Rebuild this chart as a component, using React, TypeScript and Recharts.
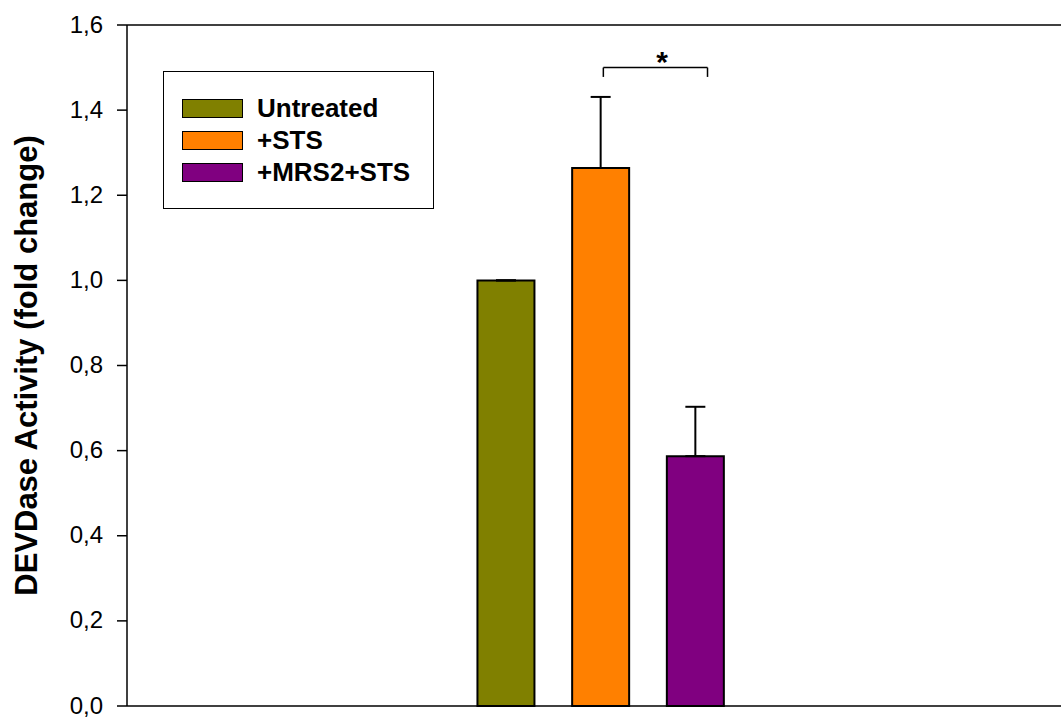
import { BarChart, Bar, XAxis, YAxis, Cell, ErrorBar, ReferenceLine, ReferenceDot } from "recharts"

const groups = ["Untreated", "+STS", "+MRS2+STS"]
const positions = [1, 2, 3]
const means = [1.0, 1.264, 0.587]
const sems = [0, 0.167, 0.116]
const colors = ["#808000", "#FF8000", "#800080"]
const yTicks = [0, 0.2, 0.4, 0.6, 0.8, 1.0, 1.2, 1.4, 1.6]

// significance bracket between +STS and +MRS2+STS
const bracketX = [2.03, 3.13]
const bracketY = 1.5
const bracketTickY = 1.478
const starPos = { x: 2.65, y: 1.535 }

const data = groups.map((g, i) => ({
  name: g,
  x: positions[i],
  value: means[i],
  err: [0, sems[i]],
}))

const font = '"Liberation Sans", Arial, sans-serif'

function LegendBox() {
  return (
    <div
      style={{
        position: "absolute",
        left: 163,
        top: 71,
        width: 269,
        height: 136,
        border: "1.5px solid #000",
        background: "#fff",
        fontFamily: font,
        boxSizing: "content-box",
      }}
    >
      {groups.map((g, i) => (
        <div
          key={g}
          style={{ position: "absolute", left: 18, top: 25 + i * 32, height: 22, display: "flex", alignItems: "center" }}
        >
          <div style={{ width: 59, height: 17, background: colors[i], border: "1.5px solid #000" }} />
          <span style={{ marginLeft: 14, fontSize: 26, fontWeight: "bold", color: "#000", lineHeight: "22px" }}>{g}</span>
        </div>
      ))}
    </div>
  )
}

export default function App() {
  return (
    <div style={{ position: "absolute", left: 0, top: 0, width: 1061, height: 718, overflow: "hidden", background: "#fff" }}>
      <BarChart width={1080} height={718} data={data} margin={{ top: 25, right: 6, bottom: 0, left: 0 }}>
        <XAxis
          dataKey="x"
          type="number"
          domain={[-3, 7]}
          tick={false}
          tickLine={false}
          height={12}
          axisLine={{ stroke: "#000", strokeWidth: 1.5 }}
        />
        <YAxis
          domain={[0, 1.6]}
          ticks={yTicks}
          width={127}
          tickSize={10}
          tickMargin={14}
          interval={0}
          tickFormatter={(v: number) => v.toFixed(1).replace(".", ",")}
          tick={{ fill: "#000", fontSize: 24, fontFamily: font, dy: -1 }}
          axisLine={{ stroke: "#000", strokeWidth: 1.5 }}
          tickLine={{ stroke: "#000", strokeWidth: 1.5 }}
          label={{
            value: "DEVDase Activity (fold change)",
            angle: -90,
            position: "insideLeft",
            offset: 0,
            dx: 26,
            style: { textAnchor: "middle", fontSize: 31, fontWeight: "bold", fontFamily: font, fill: "#000" },
          }}
        />
        <ReferenceLine y={1.6} stroke="#000" strokeWidth={1.5} />
        <Bar dataKey="value" barSize={57} stroke="#000" strokeWidth={2} isAnimationActive={false}>
          {data.map((d, i) => (
            <Cell key={d.name} fill={colors[i]} />
          ))}
          <ErrorBar dataKey="err" direction="y" width={10} stroke="#000" strokeWidth={2} isAnimationActive={false} />
        </Bar>
        <ReferenceLine
          segment={[
            { x: bracketX[0], y: bracketY },
            { x: bracketX[1], y: bracketY },
          ]}
          stroke="#000"
          strokeWidth={1.5}
        />
        <ReferenceLine
          segment={[
            { x: bracketX[0], y: bracketY },
            { x: bracketX[0], y: bracketTickY },
          ]}
          stroke="#000"
          strokeWidth={1.5}
        />
        <ReferenceLine
          segment={[
            { x: bracketX[1], y: bracketY },
            { x: bracketX[1], y: bracketTickY },
          ]}
          stroke="#000"
          strokeWidth={1.5}
        />
        <ReferenceDot
          x={starPos.x}
          y={starPos.y}
          r={0}
          stroke="none"
          label={{ value: "*", position: "center", dy: 9, style: { fontSize: 30, fontWeight: "bold", fontFamily: font, fill: "#000" } }}
        />
      </BarChart>
      <LegendBox />
    </div>
  )
}
